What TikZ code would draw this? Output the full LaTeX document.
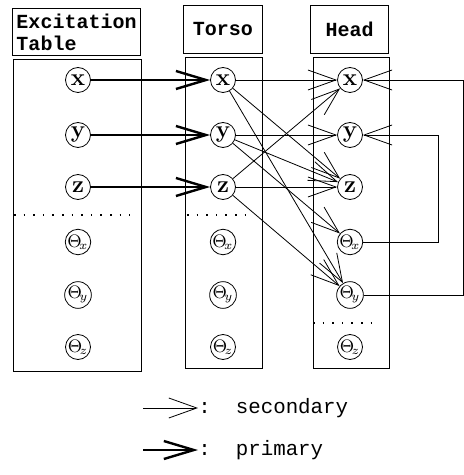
\documentclass[tikz,border=0pt]{standalone}
\usepackage{fontspec}
\setmonofont{Liberation Mono}
\usetikzlibrary{arrows.meta}

\begin{document}
\begin{tikzpicture}[x=0.5pt, y=-0.5pt,
    hdr/.style ={draw, line width=0.5pt, anchor=north west, inner sep=2pt, font=\ttfamily\bfseries\fontsize{10}{11}\selectfont},
    body/.style={draw, line width=0.5pt},
    circ/.style={draw, circle, line width=0.4pt, minimum size=12.5pt, inner sep=0pt, font=\large\bfseries},
    ang/.style ={circ, font=\small},
    sep/.style ={loosely dotted, line width=0.8pt},
    sec/.style ={-{Straight Barb[length=14pt,width=10pt]}, line width=0.4pt},
    prim/.style={-{Straight Barb[length=15pt,width=9pt]}, line width=1.2pt},
    lgd/.style ={anchor=west, inner sep=0pt, font=\ttfamily\fontsize{10.4}{12}\selectfont},
  ]
  \useasboundingbox (0,0) rectangle (464,475);

  % headers
  \node[hdr, minimum width=64pt, minimum height=23.5pt, align=left] (exch) at (12,8) {Excitation\\Table};
  \node[hdr, minimum width=39.5pt, minimum height=24pt] (torh) at (183,5) {Torso};
  \node[hdr, minimum width=39pt, minimum height=24pt] (headh) at (310,5) {Head};

  % columns
  \draw[body] (13,60) rectangle (141,371);
  \draw[body] (185,58) rectangle (262,368);
  \draw[body] (313,58) rectangle (389,368);
  \draw[sep] (14,215) -- (130,215);
  \draw[sep] (187,215) -- (252,215);
  \draw[sep] (313,323) -- (380,323);

  % joint nodes
  \foreach \n/\y in {x/80, y/135, z/187} {
    \node[circ] (e\n) at (78,\y) {\n};
    \node[circ] (t\n) at (223,\y) {\n};
    \node[circ] (h\n) at (350,\y) {\n};
  }
  \foreach \n/\y in {x/242, y/295, z/347} {
    \node[ang] (eth\n) at (78,\y) {$\Theta_{\!\n}$};
    \node[ang] (tth\n) at (223,\y) {$\Theta_{\!\n}$};
    \node[ang] (hth\n) at (350,\y) {$\Theta_{\!\n}$};
  }

  % primary
  \foreach \n in {x,y,z}
    \draw[prim] (e\n) -- (t\n);
  % secondary
  \foreach \a/\b in {x/x, x/z, x/thy, y/y, y/z, y/thx, z/x, z/z, z/thy}
    \draw[sec] (t\a) -- (h\b);
  \draw[sec] (hthx) -- ++(88,0) |- (hy);
  \draw[sec] (hthy) -- ++(113,0) |- (hx);

  % legend
  \node[lgd] (lsec) at (198,408) {:\ \ secondary};
  \coordinate (lsec0) at (143,408);
  \draw[sec] (lsec0) -- (lsec.west);
  \node[lgd] (lprim) at (198,450) {:\ \ primary};
  \coordinate (lprim0) at (143,450);
  \draw[prim] (lprim0) -- (lprim.west);
\end{tikzpicture}
\end{document}
